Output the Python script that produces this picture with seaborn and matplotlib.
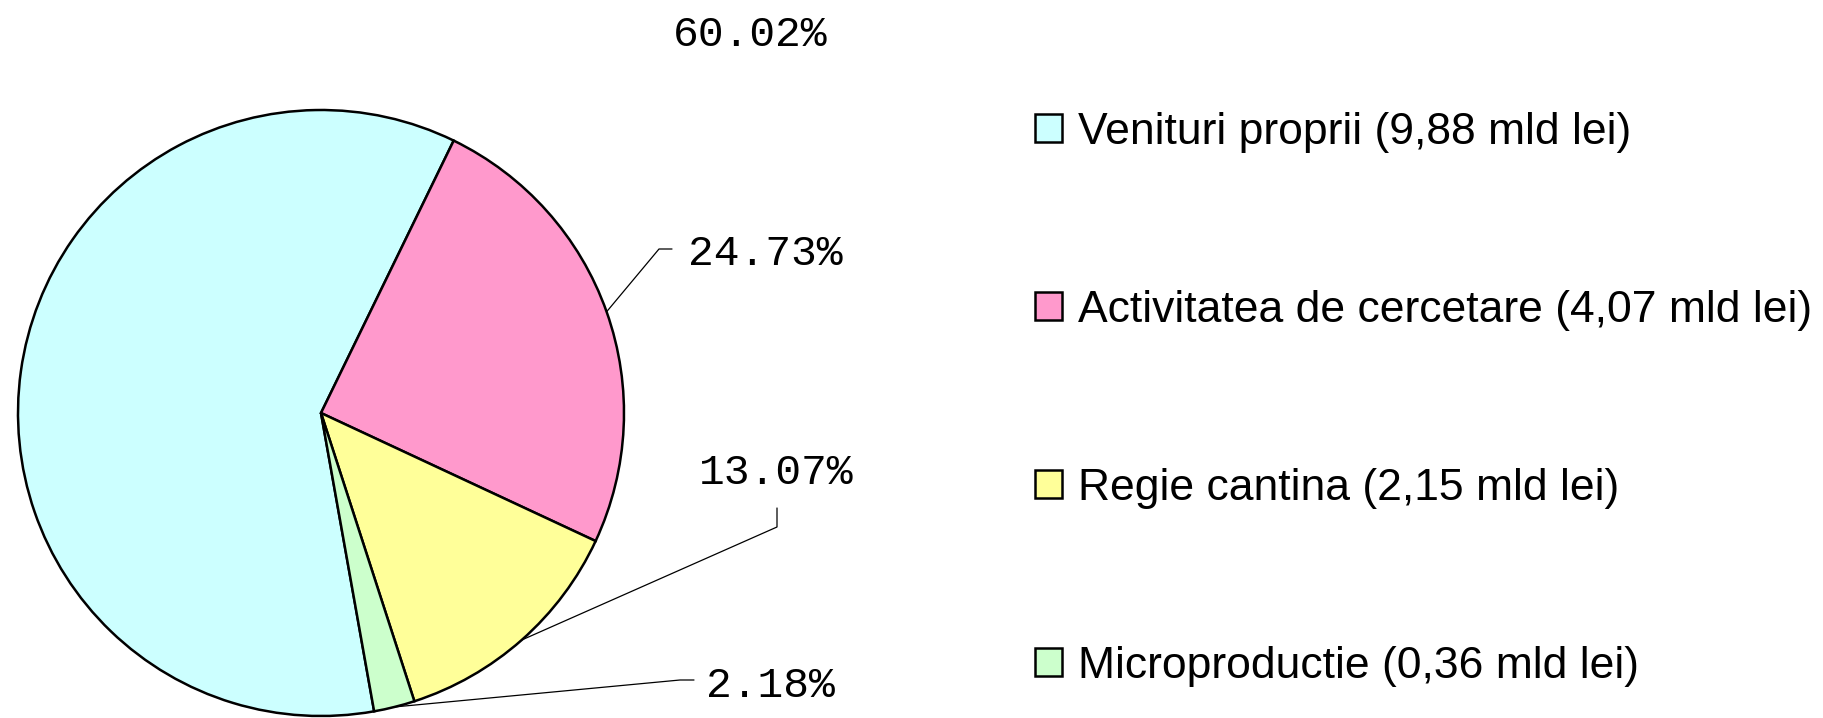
import numpy as np
import matplotlib
matplotlib.use("Agg")
import matplotlib.pyplot as plt
import seaborn as sns

# data
categories = ["Venituri proprii (9,88 mld lei)",
              "Activitatea de cercetare (4,07 mld lei)",
              "Regie cantina (2,15 mld lei)",
              "Microproductie (0,36 mld lei)"]
percents = [60.02, 24.73, 13.07, 2.18]
colors = ["#CCFFFF", "#FF99CC", "#FFFF99", "#CCFFCC"]

sns.set_theme(style="white")
plt.rcParams['font.family'] = ['Liberation Sans', 'DejaVu Sans']
plt.rcParams['text.color'] = 'black'

W, H = 1824, 718
fig = plt.figure(figsize=(W / 100, H / 100), dpi=100)
ax = fig.add_axes([0, 0, 1, 1])

cx, cy, r = 321, 305, 303
wedges, _ = ax.pie(percents, colors=colors, startangle=-79.9, counterclock=False,
                   center=(cx, cy), radius=r, frame=True,
                   wedgeprops=dict(edgecolor='black', linewidth=1.8))
ax.set_xlim(0, W)
ax.set_ylim(0, H)
ax.set_aspect('equal')
ax.axis('off')

# label positions (text centre) and leader elbow points, in pixels
label_pos = [(750, 683), (765, 464), (776, 245), (770, 32)]
elbows = [None, [(659, 469), (672, 469)], [(777, 191), (777, 210)], [(680, 38), (694, 38)]]

for w, p, pos, el in zip(wedges, percents, label_pos, elbows):
    ax.text(pos[0], pos[1], f"{p:.2f}%", ha='center', va='center',
            fontsize=31, family='Liberation Mono', color='black')
    if el is None:
        continue
    mid = np.deg2rad((w.theta1 + w.theta2) / 2)
    x0, y0 = cx + r * np.cos(mid), cy + r * np.sin(mid)
    xs = [x0] + [e[0] for e in el]
    ys = [y0] + [e[1] for e in el]
    ax.plot(xs, ys, color='black', linewidth=0.9)

leg = ax.legend(wedges, categories, loc='upper left',
                bbox_to_anchor=(1035 / W, 1 - 112 / H), bbox_transform=fig.transFigure,
                frameon=False, fontsize=32, borderpad=0, borderaxespad=0,
                handlelength=0.6, handleheight=0.6, handletextpad=0.36,
                labelspacing=3.08, labelcolor='black')
for h in leg.legend_handles:
    h.set_linewidth(1.8)
    h.set_edgecolor('black')

fig.savefig("out.png", dpi=100)
